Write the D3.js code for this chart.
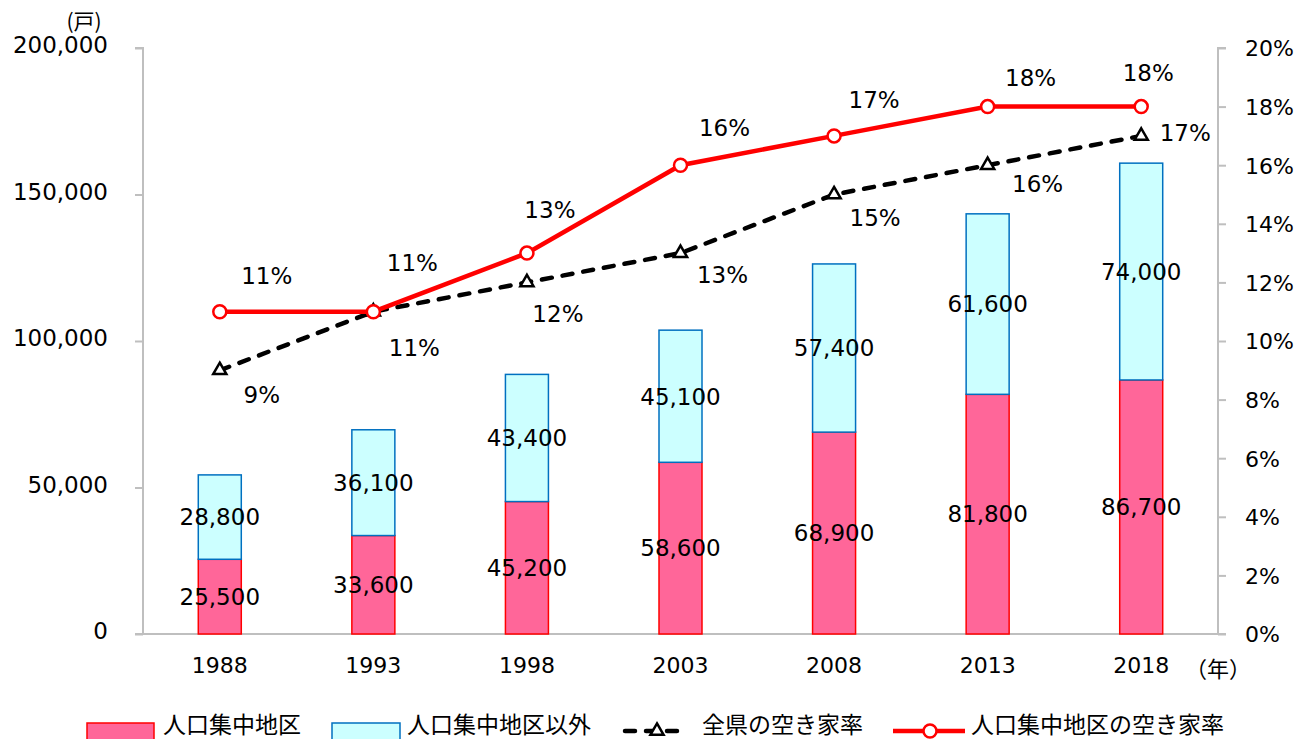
<!DOCTYPE html>
<meta charset="utf-8">
<style>
	body { margin: 0; background: #fff; }
	svg { font-family: "DejaVu Sans", Verdana, sans-serif; }
	.jp { font-family: "Noto Sans CJK JP", sans-serif; }
</style>
<script src="https://d3js.org/d3.v7.min.js"></script>
<body>
<div id="chart"></div>
<script>
	var years = ["1988", "1993", "1998", "2003", "2008", "2013", "2018"];
	var didHouses = [25500, 33600, 45200, 58600, 68900, 81800, 86700];      // 人口集中地区
	var otherHouses = [28800, 36100, 43400, 45100, 57400, 61600, 74000];    // 人口集中地区以外
	var prefRate = [9, 11, 12, 13, 15, 16, 17];                             // 全県の空き家率
	var didRate = [11, 11, 13, 16, 17, 18, 18];                             // 人口集中地区の空き家率
	var leftTicks = [0, 50000, 100000, 150000, 200000];
	var rightTicks = [0, 2, 4, 6, 8, 10, 12, 14, 16, 18, 20];

	// label nudges (px) for the rate labels
	var didLabelOff = [[47, -36], [39, -49], [23, -43], [44, -37], [40, -36], [43, -29], [7, -34]];
	var prefLabelOff = [[42, 24], [41, 36], [31, 31], [42, 22], [41, 23], [50, 19], [44, -3]];

	var width = 1300, height = 739;
	var plotL = 143, plotR = 1218, plotT = 48, plotB = 634;

	var svg = d3.select("#chart").append("svg")
		.attr("width", width)
		.attr("height", height);

	var x = d3.scaleBand().domain(years).range([plotL, plotR]).paddingInner(0.72).paddingOuter(0.36);
	var yL = d3.scaleLinear().domain([0, 200000]).range([plotB, plotT]);
	var yR = d3.scaleLinear().domain([0, 20]).range([plotB, plotT]);
	var cx = function(i) { return x(years[i]) + x.bandwidth() / 2; };

	// axes
	var axisColor = "#bfbfbf";
	var gl = svg.append("g").attr("transform", "translate(" + plotL + ",0)")
		.call(d3.axisLeft(yL).tickValues(leftTicks).tickSize(8).tickFormat(d3.format(",")));
	var gr = svg.append("g").attr("transform", "translate(" + plotR + ",0)")
		.call(d3.axisRight(yR).tickValues(rightTicks).tickSize(8).tickFormat(function(d) { return d + "%"; }));
	var gb = svg.append("g").attr("transform", "translate(0," + plotB + ")")
		.call(d3.axisBottom(x).tickSize(0));
	[gl, gr, gb].forEach(function(g) {
		g.select(".domain").attr("stroke", axisColor).attr("stroke-width", 2);
		g.selectAll(".tick line").attr("stroke", axisColor).attr("stroke-width", 2);
		g.selectAll("text").attr("fill", "#000").style("font-family", "'DejaVu Sans', Verdana, sans-serif").style("font-size", "22px");
	});
	gl.selectAll("text").style("font-size", "23px");
	gl.select(".domain").attr("d", "M-8," + plotT + "H0V" + plotB + "H-8");
	gr.select(".domain").attr("d", "M8," + plotT + "H0V" + plotB + "H8");
	gb.select(".domain").attr("d", "M" + (plotL - 8) + ",0H" + (plotR + 8));
	gl.selectAll("text").attr("x", -35).attr("dy", "0.2em");
	gr.selectAll("text").attr("x", 27).attr("dy", "0.36em");
	gb.selectAll("text").attr("y", 23);

	svg.append("text").attr("class", "jp").attr("x", 84).attr("y", 29).attr("text-anchor", "middle")
		.style("font-size", "21px").text("(戸)");
	svg.append("text").attr("class", "jp").attr("x", 1218).attr("y", 677).attr("text-anchor", "middle")
		.style("font-size", "22px").text("（年）");

	// stacked bars
	svg.selectAll("rect.did").data(didHouses).enter().append("rect")
		.attr("class", "did")
		.attr("x", function(d, i) { return x(years[i]); })
		.attr("y", function(d) { return yL(d); })
		.attr("width", x.bandwidth())
		.attr("height", function(d) { return yL(0) - yL(d); })
		.attr("fill", "#ff6699").attr("stroke", "#ff0000").attr("stroke-width", 1.5);
	svg.selectAll("rect.other").data(otherHouses).enter().append("rect")
		.attr("class", "other")
		.attr("x", function(d, i) { return x(years[i]); })
		.attr("y", function(d, i) { return yL(didHouses[i] + d); })
		.attr("width", x.bandwidth())
		.attr("height", function(d) { return yL(0) - yL(d); })
		.attr("fill", "#ccffff").attr("stroke", "#0070c0").attr("stroke-width", 1.5);

	var fmt = d3.format(",");
	svg.selectAll("text.lblDid").data(didHouses).enter().append("text")
		.attr("x", function(d, i) { return cx(i); })
		.attr("y", function(d) { return yL(d / 2); })
		.attr("dy", "0.36em").attr("text-anchor", "middle").style("font-size", "23px")
		.text(function(d) { return fmt(d); });
	svg.selectAll("text.lblOther").data(otherHouses).enter().append("text")
		.attr("x", function(d, i) { return cx(i); })
		.attr("y", function(d, i) { return yL(didHouses[i] + d / 2); })
		.attr("dy", "0.36em").attr("text-anchor", "middle").style("font-size", "23px")
		.text(function(d) { return fmt(d); });

	// lines
	var lineR = d3.line().x(function(d, i) { return cx(i); }).y(function(d) { return yR(d); });
	svg.append("path").datum(prefRate).attr("d", lineR)
		.attr("fill", "none").attr("stroke", "#000").attr("stroke-width", 4.5)
		.attr("stroke-linecap", "round").attr("stroke-dasharray", "10,11");
	svg.append("path").datum(didRate).attr("d", lineR)
		.attr("fill", "none").attr("stroke", "#ff0000").attr("stroke-width", 4.5);

	var tri = d3.symbol().type(d3.symbolTriangle).size(75);
	svg.selectAll("path.tri").data(prefRate).enter().append("path")
		.attr("d", tri)
		.attr("transform", function(d, i) { return "translate(" + cx(i) + "," + yR(d) + ")"; })
		.attr("fill", "#fff").attr("stroke", "#000").attr("stroke-width", 2.5);
	svg.selectAll("circle.dot").data(didRate).enter().append("circle")
		.attr("cx", function(d, i) { return cx(i); })
		.attr("cy", function(d) { return yR(d); })
		.attr("r", 6.5)
		.attr("fill", "#fff").attr("stroke", "#ff0000").attr("stroke-width", 2.5);

	svg.selectAll("text.rateDid").data(didRate).enter().append("text")
		.attr("x", function(d, i) { return cx(i) + didLabelOff[i][0]; })
		.attr("y", function(d, i) { return yR(d) + didLabelOff[i][1]; })
		.attr("dy", "0.36em").attr("text-anchor", "middle").style("font-size", "23px")
		.text(function(d) { return d + "%"; });
	svg.selectAll("text.ratePref").data(prefRate).enter().append("text")
		.attr("x", function(d, i) { return cx(i) + prefLabelOff[i][0]; })
		.attr("y", function(d, i) { return yR(d) + prefLabelOff[i][1]; })
		.attr("dy", "0.36em").attr("text-anchor", "middle").style("font-size", "23px")
		.text(function(d) { return d + "%"; });

	// legend
	var leg = svg.append("g").attr("class", "jp");
	var legFont = "23px", legY = 733;
	leg.append("rect").attr("x", 87).attr("y", 723).attr("width", 67).attr("height", 22)
		.attr("fill", "#ff6699").attr("stroke", "#ff0000").attr("stroke-width", 1.5);
	leg.append("text").attr("x", 163).attr("y", legY).style("font-size", legFont).text("人口集中地区");
	leg.append("rect").attr("x", 332).attr("y", 723).attr("width", 68).attr("height", 22)
		.attr("fill", "#ccffff").attr("stroke", "#0070c0").attr("stroke-width", 1.5);
	leg.append("text").attr("x", 407).attr("y", legY).style("font-size", legFont).text("人口集中地区以外");
	leg.append("line").attr("x1", 625).attr("x2", 686).attr("y1", 731).attr("y2", 731)
		.attr("stroke", "#000").attr("stroke-width", 4.5).attr("stroke-linecap", "round").attr("stroke-dasharray", "10,11");
	leg.append("path").attr("d", tri).attr("transform", "translate(657,731)")
		.attr("fill", "#fff").attr("stroke", "#000").attr("stroke-width", 2.5);
	leg.append("text").attr("x", 702).attr("y", legY).style("font-size", legFont).text("全県の空き家率");
	leg.append("line").attr("x1", 893).attr("x2", 965).attr("y1", 731).attr("y2", 731)
		.attr("stroke", "#ff0000").attr("stroke-width", 4.5);
	leg.append("circle").attr("cx", 930).attr("cy", 731).attr("r", 6.5)
		.attr("fill", "#fff").attr("stroke", "#ff0000").attr("stroke-width", 2.5);
	leg.append("text").attr("x", 971).attr("y", legY).style("font-size", legFont).text("人口集中地区の空き家率");
</script>
</body>
